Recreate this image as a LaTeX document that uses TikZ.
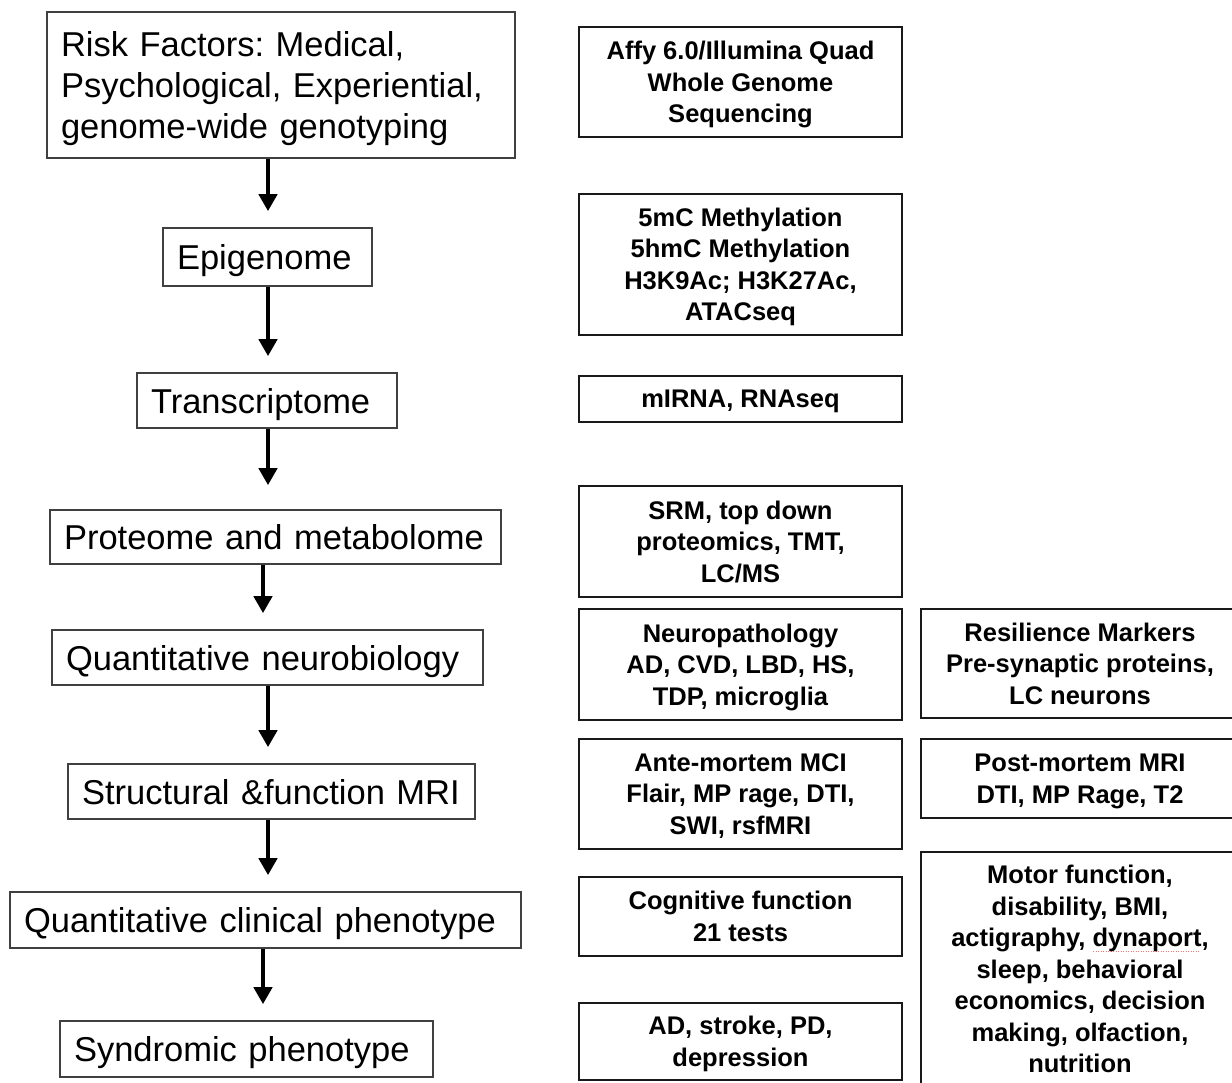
\documentclass[tikz,border=0pt]{standalone}
\usepackage{fontspec}
\setmainfont{Liberation Sans}
\usetikzlibrary{arrows.meta,calc}
\definecolor{StageClr}{rgb}{0.25,0.25,0.25}
\frenchspacing
\newcommand\spellmark[1]{\setbox0=\hbox{#1}\rlap{\color{red!55}\raisebox{-5pt}{\hbox to\wd0{\leaders\hbox to 2.5pt{\hss\rule{1.3pt}{1pt}\hss}\hfill}}}\box0}

\begin{document}
\begin{tikzpicture}[x=1pt,y=-1pt,
  stage/.style={draw=StageClr,line width=1.6pt,inner xsep=14pt,inner ysep=0pt,align=left,
    text depth=0pt,font=\fontsize{34.5}{41}\selectfont},
  tech/.style={draw=black!90,line width=2.2pt,inner sep=0pt,align=center,minimum width=323pt,
    text depth=0pt,font=\fontsize{25.5}{31.5}\selectfont\bfseries},
  flow/.style={line width=4.5pt,-{Triangle[width=18pt,length=17pt]},shorten >=16pt}]
\useasboundingbox (0,0) rectangle (1232,1083);

\node[stage,text width=440pt,text depth=82pt,minimum height=146pt] (risk) at (281,85) {Risk Factors: Medical,\\Psychological, Experiential,\\genome-wide genotyping};
\node[stage,text width=181pt,minimum height=58pt] (epi) at (267.5,257) {Epigenome};
\node[stage,text width=232pt,minimum height=55pt] (trans) at (267,400.5) {Transcriptome};
\node[stage,text width=423pt,minimum height=54pt] (prot) at (275.5,537) {Proteome and metabolome};
\node[stage,text width=403pt,minimum height=55pt] (neuro) at (267.5,657.5) {Quantitative neurobiology};
\node[stage,text width=379pt,minimum height=55pt] (mri) at (271.5,791.5) {Structural \&function MRI};
\node[stage,text width=483pt,minimum height=56pt] (clin) at (265.5,920) {Quantitative clinical phenotype};
\node[stage,text width=345pt,minimum height=56pt] (synd) at (246.5,1049) {Syndromic phenotype};

\coordinate (ax) at (268,0);
\coordinate (bx) at (263,0);
\draw[flow] (risk.south -| ax) -- (epi.north -| ax);
\draw[flow] (epi.south -| ax) -- (trans.north -| ax);
\draw[flow,shorten >=24pt] (trans.south -| ax) -- (prot.north -| ax);
\draw[flow] (prot.south -| bx) -- (neuro.north -| bx);
\draw[flow] (neuro.south -| ax) -- (mri.north -| ax);
\draw[flow] (mri.south -| ax) -- (clin.north -| ax);
\draw[flow] (clin.south -| bx) -- (synd.north -| bx);

\node[tech,minimum height=110pt] (affy) at (740.5,82) {Affy 6.0/Illumina Quad\\Whole Genome\\Sequencing};
\node[tech,minimum height=141pt] (meth) at (740.5,264.5) {5mC Methylation\\5hmC Methylation\\H3K9Ac; H3K27Ac,\\ATACseq};
\node[tech,minimum height=46pt] (rna) at (740.5,399) {mIRNA, RNAseq};
\node[tech,minimum height=111pt] (srm) at (740.5,541.5) {SRM, top down\\proteomics, TMT,\\LC/MS};
\node[tech,minimum height=111pt] (npath) at (740.5,664.5) {Neuropathology\\AD, CVD, LBD, HS,\\TDP, microglia};
\node[tech,minimum height=110pt] (ante) at (740.5,794) {Ante-mortem MCI\\Flair, MP rage, DTI,\\SWI, rsfMRI};
\node[tech,minimum height=79pt] (cog) at (740.5,916.5) {Cognitive function\\21 tests};
\node[tech,minimum height=77pt] (dx) at (740.5,1041.5) {AD, stroke, PD,\\depression};

\node[tech,minimum width=318pt,minimum height=109pt] (resil) at (1080,663.5) {Resilience Markers\\Pre-synaptic proteins,\\LC neurons};
\node[tech,minimum width=318pt,minimum height=79pt] (post) at (1080,778.5) {Post-mortem MRI\\DTI, MP Rage, T2};
\node[tech,minimum width=318pt,minimum height=234pt] (motor) at (1080,969) {Motor function,\\disability, BMI,\\actigraphy, \spellmark{dynaport},\\sleep, behavioral\\economics, decision\\making, olfaction,\\nutrition};

\end{tikzpicture}
\end{document}
